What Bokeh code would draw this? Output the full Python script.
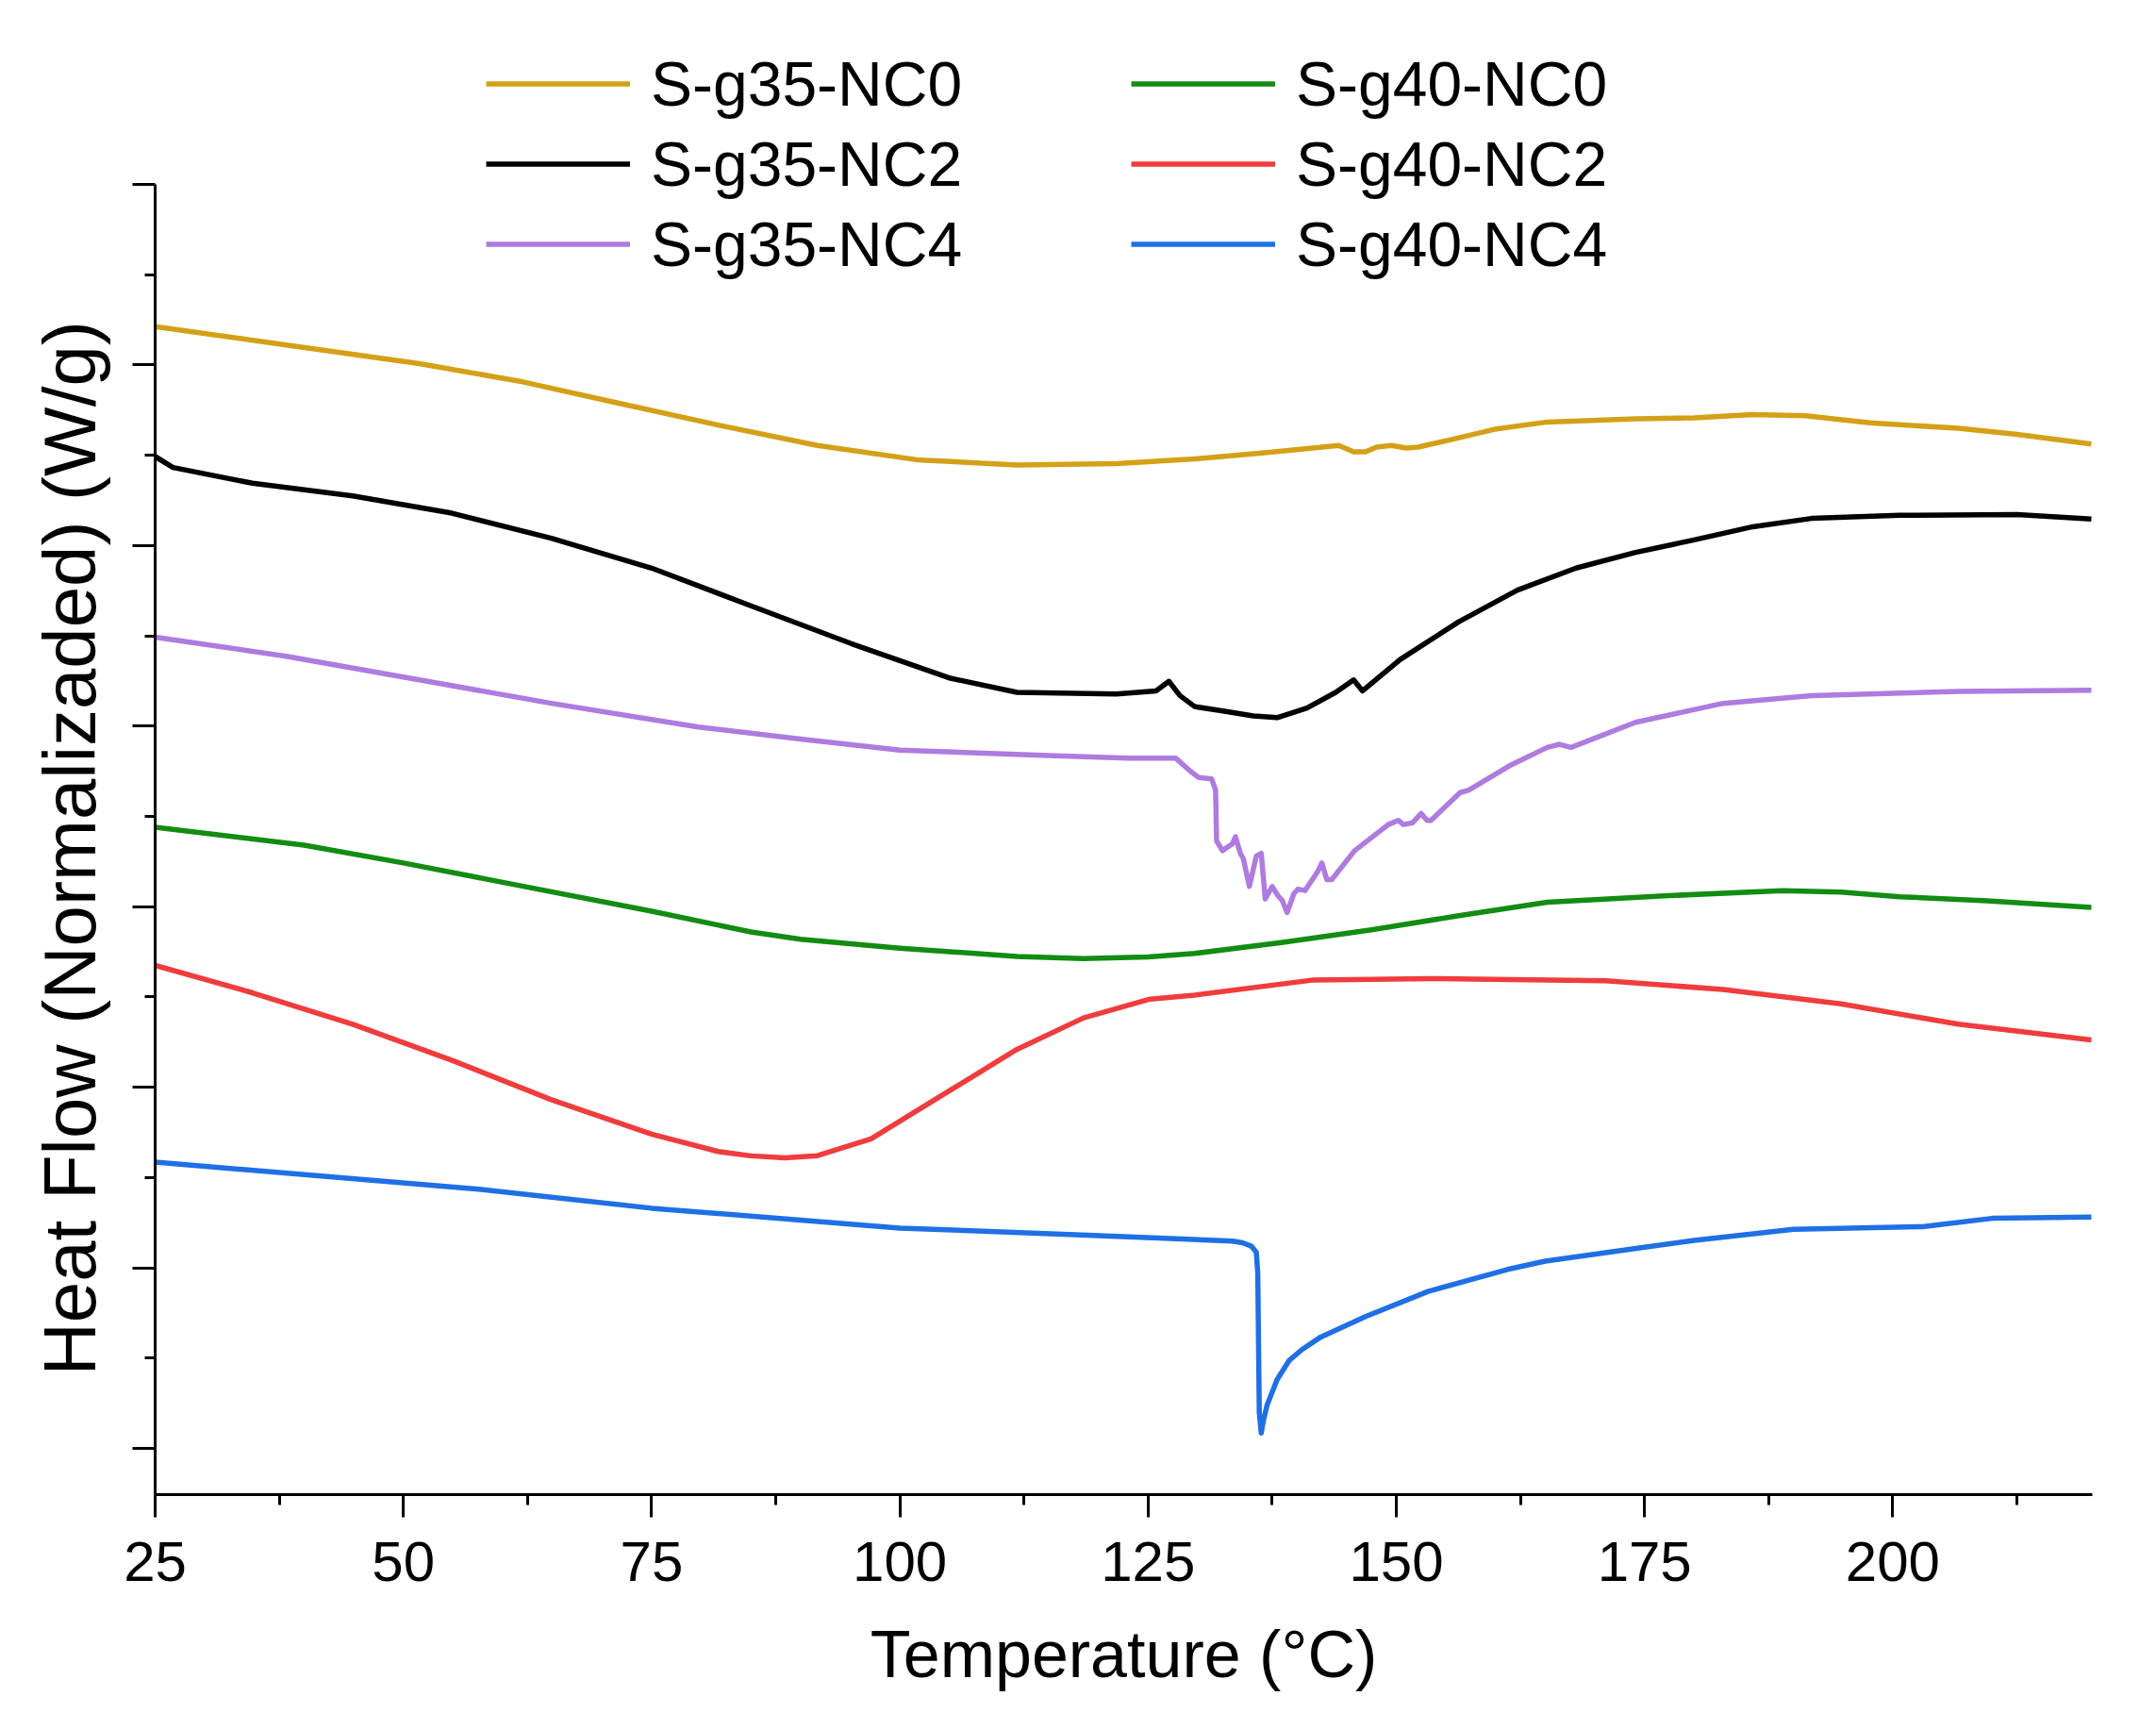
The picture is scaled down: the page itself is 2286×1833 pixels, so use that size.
from bokeh.embed import file_html
from bokeh.models import CustomJSTickFormatter, FixedTicker, Legend, LegendItem, Range1d, Title
from bokeh.plotting import figure
from bokeh.resources import INLINE

# values (each curve has its own vertical offset, W/g)
x_35_nc0 = [25, 38.2, 51.6, 61.6, 71.6, 81.7, 91.7, 101.7, 111.8, 121.8, 129.7, 137, 144.2, 145.7,
            146.9, 148, 149.5, 151, 152.2, 155.7, 159.9, 165.2, 174.1, 180, 185.9, 191.2, 197.7, 206.6,
            212.5, 220]
y_35_nc0 = [6.212, 6.111, 6.007, 5.911, 5.789, 5.667, 5.554, 5.475, 5.446, 5.453, 5.480, 5.515, 5.554,
            5.519, 5.519, 5.545, 5.554, 5.540, 5.545, 5.589, 5.644, 5.684, 5.702, 5.707, 5.725, 5.719,
            5.679, 5.649, 5.615, 5.562]

x_35_nc2 = [25, 26.8, 34.8, 44.9, 54.9, 64.9, 75, 85, 95.1, 105.1, 111.8, 121.8, 125.8, 127.1, 128.2,
            129.7, 132.7, 135.6, 138, 141, 143.9, 145.7, 146.6, 150.4, 156.3, 162.2, 168.1, 174.1, 180,
            185.9, 191.8, 200.7, 212.5, 220]
y_35_nc2 = [5.493, 5.432, 5.345, 5.275, 5.179, 5.040, 4.875, 4.666, 4.457, 4.265, 4.187, 4.178, 4.195,
            4.248, 4.169, 4.108, 4.082, 4.056, 4.047, 4.100, 4.187, 4.256, 4.195, 4.369, 4.578, 4.753,
            4.875, 4.962, 5.031, 5.104, 5.150, 5.167, 5.171, 5.147]

x_35_nc4 = [25, 38.2, 51.6, 64.9, 79.7, 90, 100, 115, 123, 127.8, 129.2, 130.1, 131.4, 131.8, 131.9,
            132.5, 133.5, 133.8, 134.3, 134.6, 135.2, 135.9, 136.4, 136.8, 137.5, 138.1, 138.5, 139.0,
            139.7, 140.1, 140.8, 142.1, 142.5, 143.0, 143.5, 145.8, 149.2, 150.2, 150.7, 151.6, 152.5,
            153.1, 153.5, 156.4, 157.3, 161.6, 165.2, 166.4, 167.6, 174.1, 182.9, 191.8, 206.6, 220]
y_35_nc4 = [4.492, 4.387, 4.256, 4.126, 3.995, 3.928, 3.867, 3.837, 3.822, 3.822, 3.753, 3.715, 3.707,
            3.646, 3.364, 3.310, 3.349, 3.387, 3.295, 3.265, 3.112, 3.280, 3.295, 3.043, 3.112, 3.059,
            3.036, 2.967, 3.074, 3.097, 3.089, 3.196, 3.242, 3.150, 3.150, 3.310, 3.455, 3.478, 3.455,
            3.463, 3.516, 3.478, 3.478, 3.631, 3.646, 3.786, 3.882, 3.899, 3.882, 4.021, 4.126, 4.169,
            4.192, 4.199]

x_40_nc0 = [25, 40, 50, 60, 75, 85, 90, 100, 111.8, 118.5, 125, 129.7, 138.6, 147.5, 156.3, 165.2,
            177, 188.9, 194.8, 200.7, 209.5, 220]
y_40_nc0 = [3.440, 3.341, 3.242, 3.135, 2.975, 2.860, 2.820, 2.770, 2.724, 2.712, 2.722, 2.741, 2.802,
            2.872, 2.950, 3.025, 3.060, 3.089, 3.081, 3.055, 3.032, 2.996]

x_40_nc2 = [25, 34.8, 44.9, 54.9, 64.9, 75, 81.7, 85, 88.4, 91.7, 97.1, 105.1, 111.8, 118.5, 125.2,
            129.7, 141.5, 153.4, 171.1, 182.9, 194.8, 206.6, 220]
y_40_nc2 = [2.675, 2.523, 2.349, 2.149, 1.931, 1.740, 1.644, 1.620, 1.609, 1.621, 1.714, 1.984, 2.210,
            2.384, 2.488, 2.510, 2.593, 2.602, 2.590, 2.541, 2.462, 2.349, 2.262]

x_40_nc4 = [25, 57.6, 75, 100, 118.3, 133.5, 134.5, 135.4, 135.9, 136.05, 136.2, 136.4, 136.6, 137.0,
            138.0, 139.2, 140.5, 142.4, 146.9, 153.2, 161.2, 165, 175, 180, 190, 203, 210, 220]
y_40_nc4 = [1.585, 1.435, 1.330, 1.220, 1.182, 1.148, 1.139, 1.120, 1.087, 0.970, 0.200, 0.085, 0.150,
            0.242, 0.381, 0.486, 0.547, 0.617, 0.730, 0.869, 0.991, 1.037, 1.114, 1.152, 1.213, 1.228,
            1.274, 1.281]

x_ticks = [25, 50, 75, 100, 125, 150, 175, 200]
x_minor = [37.5, 62.5, 87.5, 112.5, 137.5, 162.5, 187.5, 212.5]
y_ticks = [0, 1, 2, 3, 4, 5, 6, 7]
y_minor = [0.5, 1.5, 2.5, 3.5, 4.5, 5.5, 6.5]

FONT = "Liberation Sans"

# frame goes above the y axis top so the legend has room, axis is cut with bounds
p = figure(width=2270, height=1817, output_backend="svg", toolbar_location=None,
           x_range=Range1d(25, 220.1), y_range=Range1d(-0.256, 7.914),
           min_border_left=164, min_border_right=52, min_border_top=20, min_border_bottom=233)
p.outline_line_color = None
p.grid.visible = False

for ax in (p.xaxis[0], p.yaxis[0]):
    ax.axis_line_width = 3
    ax.major_tick_line_width = 3
    ax.minor_tick_line_width = 3
    ax.major_tick_out = 24
    ax.major_tick_in = 0
    ax.minor_tick_out = 11
    ax.minor_tick_in = 0
    ax.axis_label_text_font = FONT
    ax.axis_label_text_font_style = "normal"
    ax.axis_label_text_color = "black"
    ax.major_label_text_font = FONT
    ax.major_label_text_color = "black"

p.xaxis.ticker = FixedTicker(ticks=x_ticks, minor_ticks=x_minor)
p.xaxis.major_label_text_font_size = "60px"
p.xaxis.major_label_standoff = 26
p.xaxis.axis_label = "Temperature (°C)"
p.xaxis.axis_label_text_font_size = "70px"
p.xaxis.axis_label_standoff = 36

p.yaxis.ticker = FixedTicker(ticks=y_ticks, minor_ticks=y_minor)
p.yaxis.bounds = (-0.256, 7)
p.yaxis.formatter = CustomJSTickFormatter(code="return ''")

# y label as a left title so it can be centred on the axis, not on the taller frame
ylab = Title(text="Heat Flow (Normalizaded) (W/g)", align="left", offset=126, standoff=46,
             text_font=FONT, text_font_size="78px", text_font_style="normal", text_color="black")
p.add_layout(ylab, "left")

series = [
    ("S-g35-NC0", x_35_nc0, y_35_nc0, "#D4A017"),
    ("S-g35-NC2", x_35_nc2, y_35_nc2, "#000000"),
    ("S-g35-NC4", x_35_nc4, y_35_nc4, "#AE7BE0"),
    ("S-g40-NC0", x_40_nc0, y_40_nc0, "#128C12"),
    ("S-g40-NC2", x_40_nc2, y_40_nc2, "#F03C3C"),
    ("S-g40-NC4", x_40_nc4, y_40_nc4, "#1F6FE5"),
]

items = []
for name, xs, ys, col in series:
    r = p.line(xs, ys, line_color=col, line_width=5.5, line_join="round")
    items.append(LegendItem(label=name, renderers=[r]))


def make_legend(its, loc):
    lg = Legend(items=its, location=loc, orientation="vertical",
                label_text_font=FONT, label_text_font_size="66px", label_text_color="black",
                glyph_width=153, glyph_height=85, label_height=85,
                label_standoff=22, spacing=0, padding=0, margin=0,
                border_line_color=None, background_fill_alpha=0)
    return lg


p.add_layout(make_legend(items[:3], (351, 1283)))
p.add_layout(make_legend(items[3:], (1035, 1283)))

open("out.html", "w").write(file_html(p, INLINE))
